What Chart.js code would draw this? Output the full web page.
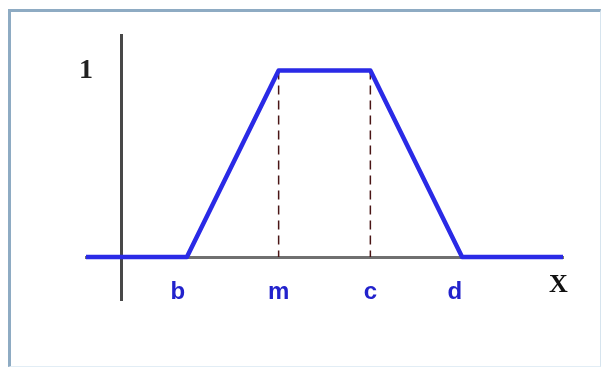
<!DOCTYPE html>
<html>
<head>
<meta charset="utf-8">
<script src="https://cdn.jsdelivr.net/npm/chart.js@4.4.1/dist/chart.umd.min.js"></script>
<style>
  html, body { margin: 0; padding: 0; background: #fff; }
  #frame {
    position: absolute; left: 8px; top: 9px; width: 589px; height: 354px;
    border-top: 3px solid #8eabc3; border-left: 3px solid #8eabc3;
    border-right: 1px solid #d6e4ee; border-bottom: 1px solid #e2edf5;
  }
  #chart { position: absolute; left: 0; top: 0; }
</style>
</head>
<body>
<div id="frame"></div>
<canvas id="chart" width="603" height="374"></canvas>
<script>
// trapezoid membership function, x in units where b=1, m=2, c=3, d=4
let xs = [-0.1, 1, 2, 3, 4, 5.1]
let mu = [0, 0, 1, 1, 0, 0]
let dashX = [2, 3]
let xTickPos = [0.9, 2, 3, 3.92, 5.05]
let xTickLabels = ['b', 'm', 'c', 'd', 'X']
let yTickPos = [1]
let yTickLabels = ['1']

const blue = '#2a2ae6'

const buildDatasets = () => {
  let sets = []
  sets.push({
    data: xs.map((x, i) => ({x: x, y: mu[i]})),
    borderColor: blue,
    borderWidth: 4.5,
    borderJoinStyle: 'round',
    pointRadius: 0,
    tension: 0
  })
  dashX.forEach(x => {
    sets.push({
      data: [{x: x, y: 1}, {x: x, y: 0}],
      borderColor: '#4a1515',
      borderWidth: 1.5,
      borderDash: [9, 6],
      pointRadius: 0
    })
  })
  return sets
}

const config = {
  type: 'line',
  data: { datasets: buildDatasets() },
  options: {
    responsive: false,
    animation: false,
    events: [],
    layout: { padding: {left: 86, right: 40, top: 35, bottom: 74} },
    plugins: { legend: {display: false}, tooltip: {enabled: false} },
    scales: {
      x: {
        type: 'linear', min: -0.1, max: 5.1,
        position: {y: 0},
        grid: {display: false, drawTicks: false},
        border: {color: '#707070', width: 3},
        afterBuildTicks: (s) => { s.ticks = xTickPos.map(v => ({value: v})) },
        ticks: {
          autoSkip: false,
          maxRotation: 0,
          padding: 21,
          callback: (v, i) => xTickLabels[i],
          color: (ctx) => ctx.index === 4 ? '#111' : '#2222cc',
          font: (ctx) => ctx.index === 4
            ? {family: '"Liberation Serif", serif', size: 26, weight: 'bold', lineHeight: 0.55}
            : {family: '"Liberation Sans", Arial, sans-serif', size: 24, weight: 'bold'}
        }
      },
      y: {
        type: 'linear', min: -0.23, max: 1.19,
        position: {x: 0.29},
        grid: {display: false, drawTicks: false},
        border: {color: '#484848', width: 3},
        ticks: {display: false}
      },
      yLabel: {
        type: 'linear', min: -0.23, max: 1.19,
        position: 'left',
        grid: {display: false, drawTicks: false},
        border: {display: false},
        afterFit: (s) => { s.width = 0 },
        afterBuildTicks: (s) => { s.ticks = yTickPos.map(v => ({value: v})) },
        ticks: {
          mirror: true,
          padding: -7,
          callback: (v, i) => yTickLabels[i],
          color: '#222',
          font: {family: '"Liberation Serif", serif', size: 28, weight: 'bold'}
        }
      }
    }
  }
}

new Chart(document.getElementById('chart'), config)
</script>
</body>
</html>
